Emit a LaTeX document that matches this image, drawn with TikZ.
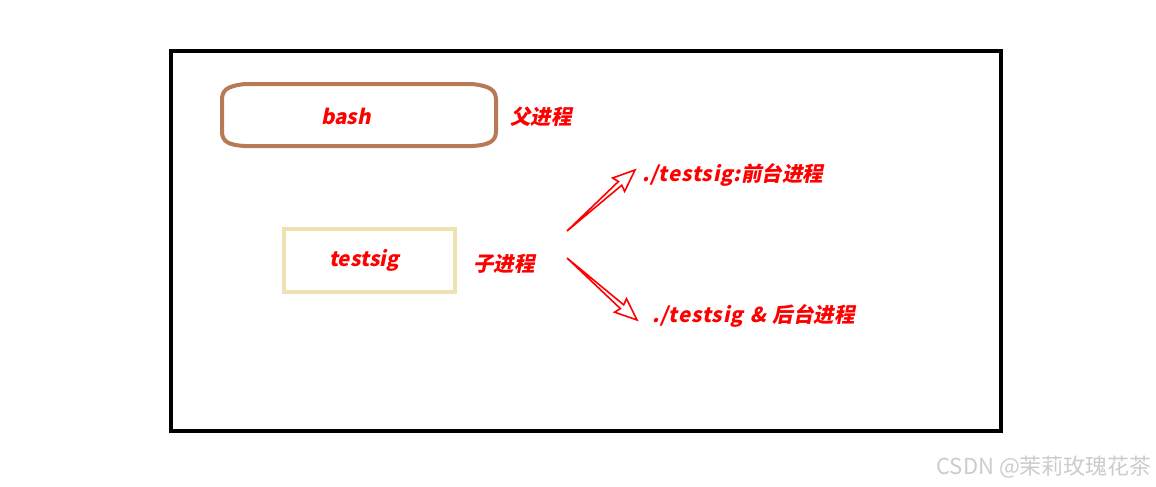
\documentclass[tikz,border=0pt]{standalone}
\usepackage{fontspec}
\usetikzlibrary{calc}
\newfontfamily\cjk[BoldFeatures={FakeSlant=0.2}]{Noto Sans CJK SC}
\newfontfamily\cjkwide[BoldFeatures={FakeSlant=0.2,LetterSpace=4}]{Noto Sans CJK SC}
\definecolor{brownline}{HTML}{B87A56}
\definecolor{khaki}{HTML}{EEE2B0}
\definecolor{redtxt}{HTML}{FF0000}
\begin{document}
\begin{tikzpicture}[x=1pt,y=-1pt,
  lbl/.style={font=\cjk\bfseries\fontsize{20.5}{24}\selectfont, text=redtxt, inner sep=0pt},
  frame/.style={draw=black, line width=4pt},
  bashline/.style={draw=brownline, line width=4pt},
  sigbox/.style={draw=khaki, line width=4pt, minimum width=171pt, minimum height=63pt},
  hollow/.style={draw=redtxt, line width=1.6pt, line join=miter, fill=white}
]
\useasboundingbox (0,0) rectangle (1156,487);
\fill[white] (0,0) rectangle (1156,487);
\draw[frame] (171,51) rectangle (1001,431);

% barrel-shaped bash box
\coordinate (bash) at (358.5,115);
\draw[bashline] (245,84) -- (472,84)
  .. controls (490,86) and (496,90) .. (496,100)
  -- (496,131)
  .. controls (496,141) and (490,145) .. (472,146)
  -- (245,146)
  .. controls (227,145) and (222,141) .. (222,131)
  -- (222,100)
  .. controls (222,90) and (227,86) .. (245,84) -- cycle;
\node[lbl] (bashtxt) at (346,116) {bash};
\node[lbl, anchor=west] (parent) at (510,117) {父进程};

\node[sigbox] (sig) at (369,260) {};
\node[lbl] (sigtxt) at (364,260) {testsig};
\node[lbl, anchor=west] (child) at (473,264) {子进程};

\coordinate (t1) at (567,231);
\coordinate (h1) at (635,170);
\coordinate (t2) at (567,258);
\coordinate (h2) at (637,320);

\foreach \a/\b in {t1/h1, t2/h2}{
  \draw[hollow] (\a)
    -- ($(\b)!20pt!(\a)!2.5pt!90:(\a)$)
    -- ($(\b)!22pt!(\a)!9pt!90:(\a)$)
    -- (\b)
    -- ($(\b)!22pt!(\a)!9pt!-90:(\a)$)
    -- ($(\b)!20pt!(\a)!2.5pt!-90:(\a)$)
    -- cycle;
}

\node[lbl, anchor=west] (fg) at (642,175) {{\cjkwide\bfseries ./testsig:}前台进程};
\node[lbl, anchor=west] (bg) at (652,316) {{\cjkwide\bfseries ./testsig}\hspace{7pt}\&\hspace{7pt}后台进程};

\node[font=\cjk\fontsize{22}{26}\selectfont, text=black!20, anchor=east, inner sep=0pt] (wm) at (1152,467) {CSDN @茉莉玫瑰花茶};
\end{tikzpicture}
\end{document}
